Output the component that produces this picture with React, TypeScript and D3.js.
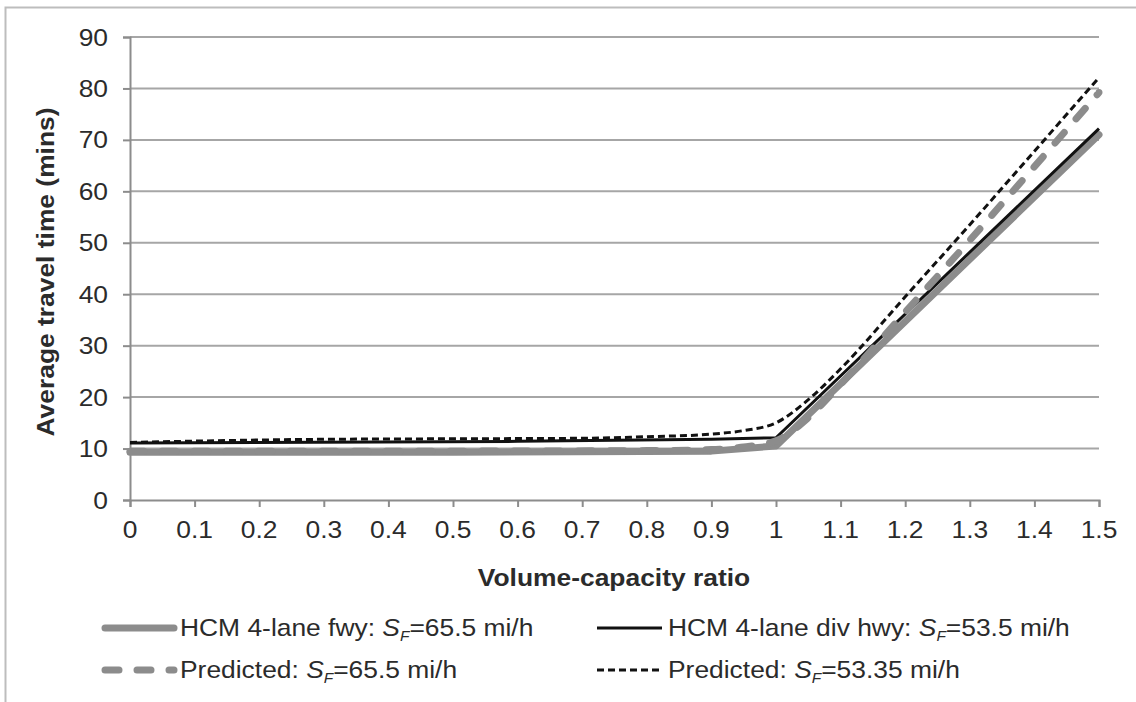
import * as d3 from 'd3';
import React, { useRef, useEffect } from 'react';

// x values (volume-capacity ratio) and travel times (mins)
const hcmFwyX = [0, 0.5, 0.9, 1.0, 1.5];
const hcmFwyY = [9.3, 9.3, 9.5, 10.5, 71];
const hcmDivX = [0, 0.6, 0.9, 1.0, 1.5];
const hcmDivY = [11.1, 11.4, 11.8, 12.1, 72.2];
const predFwyX = [0, 0.5, 0.8, 0.9, 0.95, 1.0, 1.05, 1.1, 1.2, 1.3, 1.4, 1.5];
const predFwyY = [9.5, 9.5, 9.6, 9.8, 10.3, 11.5, 16, 22.5, 36.5, 50.5, 64.8, 79.2];
const predDivX = [0, 0.3, 0.5, 0.7, 0.8, 0.9, 0.95, 1.0, 1.05, 1.1, 1.2, 1.3, 1.4, 1.5];
const predDivY = [11.2, 11.8, 11.9, 12.0, 12.3, 12.8, 13.5, 15.0, 19.5, 25.5, 39.5, 53.5, 67.8, 82.1];

const xTicks = [0, 0.1, 0.2, 0.3, 0.4, 0.5, 0.6, 0.7, 0.8, 0.9, 1, 1.1, 1.2, 1.3, 1.4, 1.5];
const yTicks = [0, 10, 20, 30, 40, 50, 60, 70, 80, 90];

const series = [
    { name: 'HCM 4-lane fwy: ', sf: '=65.5 mi/h', xs: hcmFwyX, ys: hcmFwyY, color: '#8c8c8c', w: 7, dash: null, smooth: false },
    { name: 'HCM 4-lane div hwy: ', sf: '=53.5 mi/h', xs: hcmDivX, ys: hcmDivY, color: '#111', w: 3, dash: null, smooth: false },
    { name: 'Predicted: ', sf: '=65.5 mi/h', xs: predFwyX, ys: predFwyY, color: '#8c8c8c', w: 7, dash: '14,18', smooth: true },
    { name: 'Predicted: ', sf: '=53.35 mi/h', xs: predDivX, ys: predDivY, color: '#111', w: 3, dash: '7,4', smooth: true },
];

function App() {
    const ref = useRef(null);

    useEffect(() => {
        const svg = d3.select(ref.current);
        svg.selectAll('*').remove();

        const font = 'Liberation Sans, Arial, sans-serif';
        const textColor = '#2b2b2b';
        const fs = 24;
        const sx = 1.1; // glyphs in the original are a bit wider than Liberation Sans

        // text helper, (x, y) is the anchor point, rot in degrees
        function label(x, y, txt, anchor, bold, rot) {
            return svg.append('text')
                .attr('transform', 'translate(' + x + ',' + y + ') rotate(' + (rot || 0) + ') scale(' + sx + ',1)')
                .attr('text-anchor', anchor)
                .style('font-family', font)
                .style('font-size', fs + 'px')
                .style('font-weight', bold ? 'bold' : 'normal')
                .attr('fill', textColor)
                .text(txt);
        }

        // outer frame
        svg.append('rect')
            .attr('x', 5.5).attr('y', 7.5)
            .attr('width', 1140).attr('height', 700)
            .attr('fill', 'none').attr('stroke', '#bdbdbd').attr('stroke-width', 2);

        var x = d3.scaleLinear().domain([0, 1.5]).range([130, 1099]);
        var y = d3.scaleLinear().domain([0, 90]).range([500, 37]);

        // gridlines
        svg.append('g')
            .selectAll('line')
            .data(yTicks.filter(d => d > 0))
            .enter().append('line')
            .attr('x1', x(0)).attr('x2', x(1.5))
            .attr('y1', d => y(d)).attr('y2', d => y(d))
            .attr('stroke', '#a6a6a6').attr('stroke-width', 2);

        // y axis (line + ticks from d3, labels drawn below)
        const yAxis = svg.append('g')
            .attr('transform', 'translate(' + x(0) + ',0)')
            .call(d3.axisLeft(y).tickValues(yTicks).tickSize(7).tickFormat(''));
        yAxis.select('.domain').attr('stroke', '#8c8c8c').attr('stroke-width', 2);
        yAxis.selectAll('.tick line').attr('stroke', '#8c8c8c').attr('stroke-width', 2);
        yTicks.forEach(d => label(108, y(d) + 8.5, String(d), 'end', false));

        // x axis
        const xAxis = svg.append('g')
            .attr('transform', 'translate(0,' + y(0) + ')')
            .call(d3.axisBottom(x).tickValues(xTicks).tickSize(7).tickFormat(''));
        xAxis.select('.domain').attr('stroke', '#8c8c8c').attr('stroke-width', 2);
        xAxis.selectAll('.tick line').attr('stroke', '#8c8c8c').attr('stroke-width', 2);
        xTicks.forEach(d => label(x(d), 538, String(+d), 'middle', false));

        // axis titles
        label(614, 586, 'Volume-capacity ratio', 'middle', true);
        label(54, 272, 'Average travel time (mins)', 'middle', true, -90);

        // lines
        series.forEach(s => {
            const pts = s.xs.map((v, i) => [v, s.ys[i]]);
            const line = d3.line()
                .x(d => x(d[0]))
                .y(d => y(d[1]))
                .curve(s.smooth ? d3.curveMonotoneX : d3.curveLinear);
            const p = svg.append('path')
                .datum(pts)
                .attr('d', line)
                .attr('fill', 'none')
                .attr('stroke', s.color)
                .attr('stroke-width', s.w)
                .attr('stroke-linejoin', 'round')
                .attr('stroke-linecap', s.w > 5 ? 'round' : 'butt');
            if (s.dash) p.attr('stroke-dasharray', s.dash);
        });

        // legend
        const legendPos = [[102, 628], [597, 628], [102, 670], [597, 670]];
        series.forEach((s, i) => {
            const [lx, ly] = legendPos[i];
            const lineLen = s.w > 5 ? 72 : 65;
            const l = svg.append('line')
                .attr('x1', lx + (s.w > 5 ? 3 : 0)).attr('x2', lx + lineLen)
                .attr('y1', ly).attr('y2', ly)
                .attr('stroke', s.color).attr('stroke-width', s.w)
                .attr('stroke-linecap', s.w > 5 ? 'round' : 'butt');
            if (s.dash) l.attr('stroke-dasharray', s.dash);

            const t = label(lx + lineLen + 6, ly + 8, '', 'start', false);
            t.append('tspan').text(s.name);
            t.append('tspan').style('font-style', 'italic').text('S');
            t.append('tspan').style('font-style', 'italic').style('font-size', '14px').attr('dy', 5).text('F');
            t.append('tspan').attr('dy', -5).text(s.sf);
        });
    }, []);

    return (
        <svg ref={ref} width={1136} height={702}
            style={{ position: 'absolute', left: 0, top: 0, background: '#fff' }}>
        </svg>
    );
}

export default App;
